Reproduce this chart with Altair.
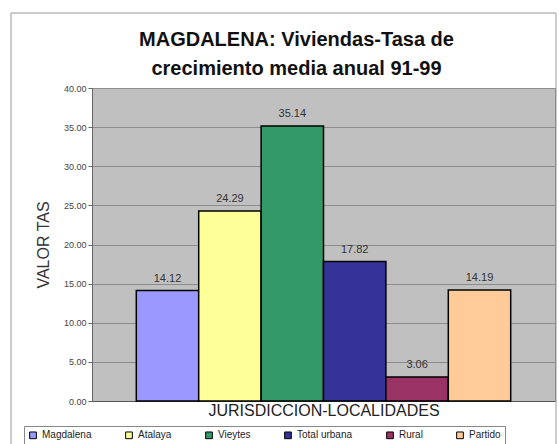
import altair as alt
import pandas as pd

# Tasa de crecimiento media anual de viviendas 1991-1999, partido de Magdalena
localidades = ["Magdalena", "Atalaya", "Vieytes", "Total urbana", "Rural", "Partido"]
tasas = [14.12, 24.29, 35.14, 17.82, 3.06, 14.19]
colores = ["#9999FF", "#FFFF99", "#339966", "#333399", "#993366", "#FFCC99"]
marcas_y = [0, 5, 10, 15, 20, 25, 30, 35, 40]

datos = pd.DataFrame({"Jurisdicción": localidades, "Tasa": tasas})

FUENTE = "Liberation Sans"

x_enc = alt.X(
    "Jurisdicción:N",
    sort=localidades,
    scale=alt.Scale(paddingInner=0, paddingOuter=0.71),
    axis=alt.Axis(
        labels=False,
        ticks=False,
        title="JURISDICCION-LOCALIDADES",
        titleFont=FUENTE,
        titleFontSize=16,
        titleFontWeight="normal",
        titleColor="#222222",
        titlePadding=1,
        domainColor="#555555",
    ),
)

y_enc = alt.Y(
    "Tasa:Q",
    scale=alt.Scale(domain=[0, 40], nice=False),
    axis=alt.Axis(
        values=marcas_y,
        format=".2f",
        title="VALOR TAS",
        titleFont=FUENTE,
        titleFontSize=16,
        titleFontWeight="normal",
        titleColor="#333333",
        titlePadding=12,
        labelFont=FUENTE,
        labelFontSize=9,
        labelColor="#444444",
        tickSize=4,
        tickColor="#666666",
        domainColor="#666666",
        gridColor="#8c8c8c",
    ),
)

color_enc = alt.Color(
    "Jurisdicción:N",
    sort=localidades,
    scale=alt.Scale(domain=localidades, range=colores),
    legend=alt.Legend(
        orient="none",
        legendX=-68,
        legendY=338,
        direction="horizontal",
        title=None,
        symbolType="square",
        symbolSize=45,
        symbolStrokeColor="#000000",
        symbolStrokeWidth=1,
        labelFont=FUENTE,
        labelFontSize=10,
        labelColor="#222222",
        columnPadding=31,
        padding=4,
        strokeColor="#888888",
    ),
)

base = alt.Chart(datos)

barras = base.mark_bar(stroke="#000000", strokeWidth=1.5).encode(
    x=x_enc, y=y_enc, color=color_enc
)

etiquetas = base.mark_text(
    dy=-7, baseline="bottom", font=FUENTE, fontSize=11, color="#333333"
).encode(
    x=x_enc,
    y=y_enc,
    text=alt.Text("Tasa:Q", format=".2f"),
)

# marco exterior del gráfico
marco = alt.Chart(pd.DataFrame({"k": [0]})).mark_rect(
    fillOpacity=0, stroke="#999999", strokeWidth=1
).encode(
    x=alt.value(-81), x2=alt.value(464), y=alt.value(-75), y2=alt.value(370)
)

chart = (
    alt.layer(marco, barras, etiquetas)
    .properties(
        width=463,
        height=313,
        autosize=alt.AutoSizeParams(type="none"),
        padding={"left": 92, "top": 88, "right": 4, "bottom": 43},
        background="#ffffff",
        title=alt.TitleParams(
            ["MAGDALENA: Viviendas-Tasa de", "crecimiento media anual 91-99"],
            font=FUENTE,
            fontSize=20,
            fontWeight="bold",
            color="#111111",
            anchor="middle",
            frame="group",
            dx=-27,
            dy=73,
            offset=7,
            lineHeight=29,
        ),
    )
    .configure_view(fill="#C0C0C0", stroke="#808080", strokeWidth=1)
)

chart.save("out.html", embed_options={"renderer": "svg", "actions": False})
